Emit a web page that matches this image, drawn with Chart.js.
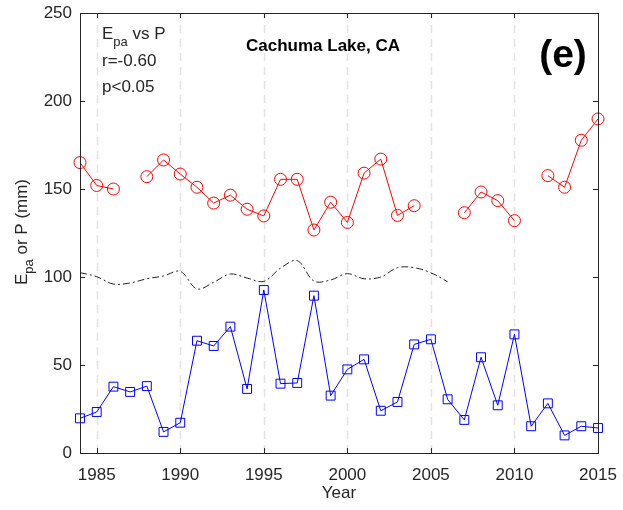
<!DOCTYPE html>
<html>
<head>
<meta charset="utf-8">
<script src="https://cdn.jsdelivr.net/npm/chart.js@4"></script>
<style>
    html, body { margin: 0; padding: 0; background: #fff; }
    #chart { display: block; }
</style>
</head>
<body>
<canvas id="chart" width="623" height="510"></canvas>
<script>
// data
const years = [1984, 1985, 1986, 1987, 1988, 1989, 1990, 1991, 1992, 1993, 1994, 1995, 1996, 1997, 1998, 1999,
    2000, 2001, 2002, 2003, 2004, 2005, 2006, 2007, 2008, 2009, 2010, 2011, 2012, 2013, 2014, 2015];
const epaValues = [165, 152, 150, null, 157, 166.5, 158.5, 151, 142, 146.5, 138.5, 134.7, 155.5, 155.5, 126.7, 142.5,
    131, 159, 167, 135, 140.5, null, null, 136.5, 148.3, 143.4, 132, null, 157.6, 151, 177.7, 189.8];
const pValues = [19.7, 23.3, 37.7, 34.7, 38, 12, 17.2, 63.8, 60.8, 71.8, 36.4, 92.6, 39.4, 39.8, 89.4, 32.6,
    47.5, 53.2, 24, 29, 61.7, 64.6, 30.5, 18.8, 54.4, 27.1, 67.4, 15.2, 28.2, 10, 15.2, 14.2];
const refYears = [1984, 1985, 1986, 1987, 1988, 1989, 1990, 1991, 1992, 1993, 1994, 1995, 1996, 1997, 1998, 1999,
    2000, 2001, 2002, 2003, 2004, 2005, 2006];
const refValues = [102.5, 100.2, 96, 96.6, 99, 100.6, 103.2, 93.2, 97, 101.7, 99.4, 97.5, 105, 109.3, 97.7, 98.3,
    101.9, 99, 100, 105.3, 105.3, 102.4, 97.3];
const xTicks = [1985, 1990, 1995, 2000, 2005, 2010, 2015];
const gridYears = [1985, 1990, 1995, 2000, 2005, 2010];
const yTicks = [0, 50, 100, 150, 200, 250];

const FONT = "'Liberation Sans', Arial, sans-serif";
const INK = "#262626";

const toPoints = (xs, ys) => xs.map((x, i) => ({ x: x, y: ys[i] }));

// dashed grid, box, inward ticks and the text labels
const decorations = {
    id: "decorations",
    beforeDatasetsDraw(chart) {
        const ctx = chart.ctx;
        const area = chart.chartArea;
        const xs = chart.scales.x;
        ctx.save();
        ctx.strokeStyle = "#e3e3e3";
        ctx.lineWidth = 1.5;
        ctx.setLineDash([8, 6]);
        gridYears.forEach(v => {
            const px = Math.round(xs.getPixelForValue(v)) + 0.5;
            ctx.beginPath();
            ctx.moveTo(px, area.bottom);
            ctx.lineTo(px, area.top);
            ctx.stroke();
        });
        ctx.restore();
    },
    afterDraw(chart) {
        const ctx = chart.ctx;
        const a = chart.chartArea;
        const xs = chart.scales.x;
        const ys = chart.scales.y;
        const tick = 5;
        ctx.save();
        ctx.strokeStyle = INK;
        ctx.lineWidth = 1;
        ctx.strokeRect(Math.round(a.left) + 0.5, Math.round(a.top) + 0.5,
            Math.round(a.right - a.left), Math.round(a.bottom - a.top));
        ctx.beginPath();
        xTicks.forEach(v => {
            const px = Math.round(xs.getPixelForValue(v)) + 0.5;
            ctx.moveTo(px, a.bottom); ctx.lineTo(px, a.bottom - tick);
            ctx.moveTo(px, a.top); ctx.lineTo(px, a.top + tick);
        });
        yTicks.forEach(v => {
            const py = Math.round(ys.getPixelForValue(v)) + 0.5;
            ctx.moveTo(a.left, py); ctx.lineTo(a.left + tick, py);
            ctx.moveTo(a.right, py); ctx.lineTo(a.right - tick, py);
        });
        ctx.stroke();

        ctx.fillStyle = INK;
        ctx.textBaseline = "alphabetic";

        // x title
        ctx.font = "17px " + FONT;
        ctx.textAlign = "center";
        ctx.fillText("Year", (a.left + a.right) / 2, 498);

        // y title, rotated, with subscript
        ctx.save();
        ctx.translate(27, 232);
        ctx.rotate(-Math.PI / 2);
        ctx.textAlign = "left";
        ctx.font = "17px " + FONT;
        const wE = ctx.measureText("E").width;
        ctx.font = "13px " + FONT;
        const wSub = ctx.measureText("pa").width;
        ctx.font = "17px " + FONT;
        const wRest = ctx.measureText(" or P (mm)").width;
        let x0 = -(wE + wSub + wRest) / 2;
        ctx.fillText("E", x0, 0);
        ctx.font = "13px " + FONT;
        ctx.fillText("pa", x0 + wE, 6);
        ctx.font = "17px " + FONT;
        ctx.fillText(" or P (mm)", x0 + wE + wSub, 0);
        ctx.restore();

        // annotation block
        ctx.textAlign = "left";
        ctx.font = "17px " + FONT;
        ctx.fillText("E", 102, 39);
        const eW = ctx.measureText("E").width;
        ctx.font = "13px " + FONT;
        ctx.fillText("pa", 102 + eW, 46);
        const paW = ctx.measureText("pa").width;
        ctx.font = "17px " + FONT;
        ctx.fillText(" vs P", 102 + eW + paW, 39);
        ctx.fillText("r=-0.60", 102, 66);
        ctx.fillText("p<0.05", 102, 92);

        ctx.textAlign = "center";
        ctx.fillStyle = "#000";
        ctx.font = "bold 17px " + FONT;
        ctx.fillText("Cachuma Lake, CA", 323, 51);
        ctx.font = "bold 39px " + FONT;
        ctx.fillText("(e)", 563, 67);
        ctx.restore();
    }
};

new Chart(document.getElementById("chart"), {
    type: "line",
    data: {
        datasets: [
            {
                label: "Epa",
                data: toPoints(years, epaValues),
                borderColor: "#ff0000",
                borderWidth: 1,
                pointStyle: "circle",
                pointRadius: 6,
                pointBorderWidth: 1,
                pointBorderColor: "#ff0000",
                pointBackgroundColor: "rgba(0,0,0,0)",
                spanGaps: false,
                tension: 0
            },
            {
                label: "P",
                data: toPoints(years, pValues),
                borderColor: "#0000ff",
                borderWidth: 1,
                pointStyle: "rect",
                pointRadius: 6.3,
                pointBorderWidth: 1,
                pointBorderColor: "#0000ff",
                pointBackgroundColor: "rgba(0,0,0,0)",
                tension: 0
            },
            {
                label: "ref",
                data: toPoints(refYears, refValues),
                borderColor: "#222",
                borderWidth: 1,
                borderDash: [7, 3, 2, 3],
                pointRadius: 0,
                tension: 0.35
            }
        ]
    },
    options: {
        responsive: false,
        animation: false,
        clip: false,
        layout: { padding: { left: 0, top: 13, right: 25, bottom: 0 } },
        plugins: { legend: { display: false }, tooltip: { enabled: false } },
        scales: {
            x: {
                type: "linear",
                min: 1984,
                max: 2015,
                grid: { display: false, drawTicks: false },
                border: { display: false },
                afterBuildTicks: scale => { scale.ticks = xTicks.map(v => ({ value: v })); },
                afterFit: scale => {
                    scale.height = 57;
                    scale.paddingLeft = 0;
                    scale.paddingRight = 0;
                },
                ticks: {
                    padding: 12,
                    maxRotation: 0,
                    autoSkip: false,
                    color: INK,
                    font: { family: FONT, size: 17 },
                    callback: v => String(v)
                }
            },
            y: {
                min: 0,
                max: 250,
                grid: { display: false, drawTicks: false },
                border: { display: false },
                afterBuildTicks: scale => { scale.ticks = yTicks.map(v => ({ value: v })); },
                afterFit: scale => {
                    scale.width = 80;
                    scale.paddingTop = 0;
                    scale.paddingBottom = 0;
                },
                ticks: {
                    padding: 8,
                    color: INK,
                    font: { family: FONT, size: 17 }
                }
            }
        }
    },
    plugins: [decorations]
});
</script>
</body>
</html>
